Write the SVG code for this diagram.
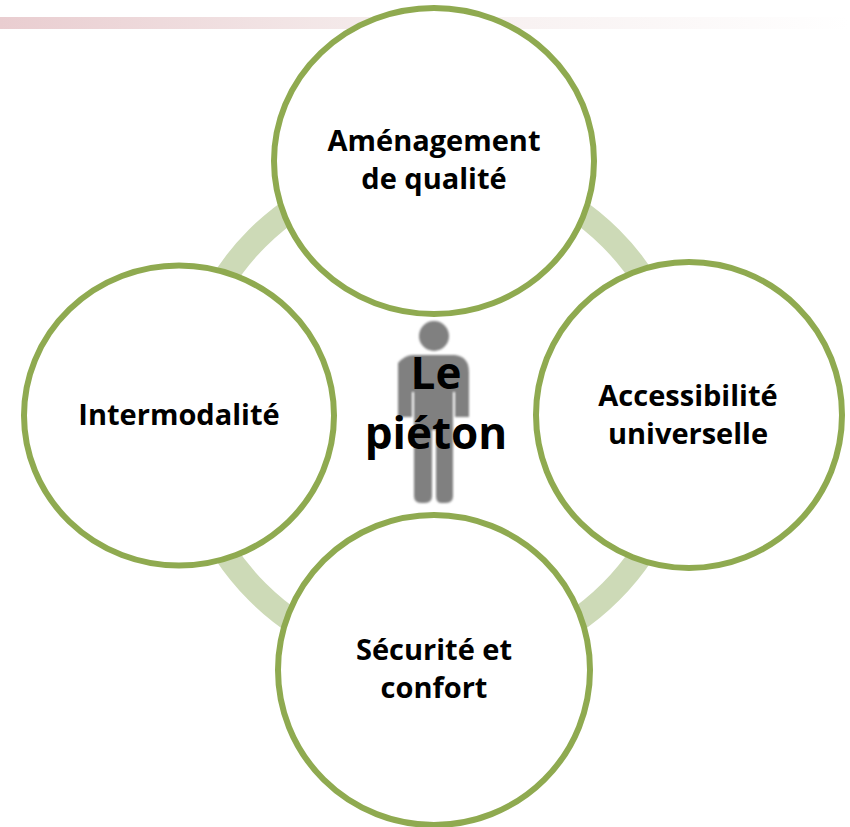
<svg xmlns="http://www.w3.org/2000/svg" width="850" height="827" viewBox="0 0 850 827">
<style>
.n{fill:#fff;stroke:#8faa50;stroke-width:6}
text{font-family:"Open Sans","Noto Sans","Liberation Sans",sans-serif;font-weight:700;fill:#000;text-anchor:middle}
.l{font-size:29px}
.c{font-size:44px}
</style>
<defs>
<linearGradient id="band" x1="0" x2="1" y1="0" y2="0"><stop offset="0" stop-color="#e9cdd0"/><stop offset="0.45" stop-color="#f5ecec"/><stop offset="1" stop-color="#fff"/></linearGradient>
<filter id="soft" x="-10%" y="-10%" width="120%" height="120%"><feGaussianBlur stdDeviation="0.8"/></filter>
</defs>
<rect x="0" y="17" width="850" height="12" fill="url(#band)"/>
<g id="connectors"><circle cx="434" cy="415" r="250" fill="none" stroke="#cddab7" stroke-width="24"/></g>
<g id="figure" fill="#808080" filter="url(#soft)">
<circle cx="434" cy="336" r="15"/>
<path d="M398 363Q405 355 413 355H455Q469 357 469 372V417H455V392H453V496Q453 503 446 503H441Q436 503 436 496V430H432V496Q432 503 425 503H421Q414 503 414 496V392H412V417H398Z"/>
</g>
<g id="node-top"><ellipse class="n" cx="434" cy="161" rx="160" ry="153"/><text class="l" x="434" y="151">Aménagement</text><text class="l" x="434" y="189">de qualité</text></g>
<g id="node-right"><circle class="n" cx="689" cy="415" r="153"/><text class="l" x="688" y="406">Accessibilité</text><text class="l" x="688" y="444">universelle</text></g>
<g id="node-bottom"><ellipse class="n" cx="434" cy="670" rx="156" ry="155"/><text class="l" x="434" y="660">Sécurité et</text><text class="l" x="434" y="698">confort</text></g>
<g id="node-left"><ellipse class="n" cx="179" cy="415.500" rx="155" ry="150"/><text class="l" x="179" y="425">Intermodalité</text></g>
<g id="center"><text class="c" x="436" y="389">Le</text><text class="c" x="436" y="449">piéton</text></g>
</svg>
